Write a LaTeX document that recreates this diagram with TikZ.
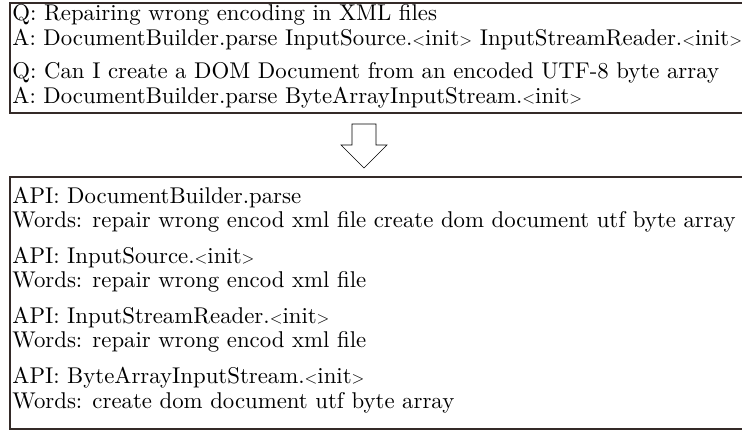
\documentclass[tikz,border=0pt]{standalone}
\usepackage{fontspec}
\usepackage{graphicx}
% compact angle brackets for constructor names
\newcommand{\lang}{\scalebox{0.72}{\textless}}
\newcommand{\rang}{\scalebox{0.72}{\textgreater}}
\newcommand{\initname}{.\lang init\rang}
\definecolor{framecol}{RGB}{52,42,40}
\begin{document}
\begin{tikzpicture}[x=1pt,y=-1pt,
  frame/.style={draw=framecol, line width=1.2pt},
  txt/.style={anchor=base west, inner sep=0pt, scale=2.28, font=\fontsize{10}{12}\selectfont},
  hollowarrow/.style={draw=black, line width=0.6pt, fill=white, line join=miter}]
\useasboundingbox (0,0) rectangle (742,430);
\fill[white] (0,0) rectangle (742,430);

% question/answer box
\coordinate (qaNW) at (10,3);
\coordinate (qaSE) at (748,113);
\draw[frame] (qaNW) rectangle (qaSE);
\node[txt] (q1) at (12,21) {Q: Repairing wrong encoding in XML files};
\node[txt] (a1) at (12,46) {A: DocumentBuilder.parse InputSource\initname{} InputStreamReader\initname};
\node[txt] (q2) at (12,79) {Q: Can I create a DOM Document from an encoded UTF-8 byte array};
\node[txt] (a2) at (12,104) {A: DocumentBuilder.parse ByteArrayInputStream\initname};

% hollow down arrow
\draw[hollowarrow] (352,124) -- (376,124) -- (376,145) -- (387,145) -- (364,168)
  -- (341,145) -- (352,145) -- cycle;

% API / words box
\coordinate (apiNW) at (10,177);
\coordinate (apiSE) at (748,429);
\draw[frame] (apiNW) rectangle (apiSE);
\node[txt] (api1) at (12,204) {API: DocumentBuilder.parse};
\node[txt] (w1) at (12,228) {Words: repair wrong encod xml file create dom document utf byte array};
\node[txt] (api2) at (12,264) {API: InputSource\initname};
\node[txt] (w2) at (12,288) {Words: repair wrong encod xml file};
\node[txt] (api3) at (12,324) {API: InputStreamReader\initname};
\node[txt] (w3) at (12,348) {Words: repair wrong encod xml file};
\node[txt] (api4) at (12,384) {API: ByteArrayInputStream\initname};
\node[txt] (w4) at (12,408) {Words: create dom document utf byte array};
\end{tikzpicture}
\end{document}
